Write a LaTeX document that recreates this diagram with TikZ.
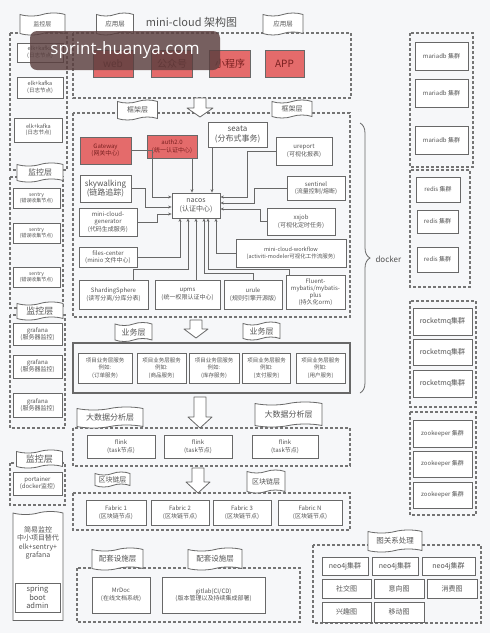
\documentclass[tikz,border=0pt]{standalone}
\usepackage{fontspec}
\setmainfont{Noto Sans CJK SC}
\newfontfamily\wmfont{Open Sans}
\usepackage{tikz}
\usetikzlibrary{arrows.meta,calc,positioning,shapes.symbols,decorations.pathreplacing}
\definecolor{bgcol}{HTML}{F6F7F9}
\definecolor{linegray}{HTML}{686868}
\definecolor{textgray}{HTML}{555555}
\definecolor{dashgray}{HTML}{747474}
\definecolor{redfill}{HTML}{E46B6B}
\definecolor{redtext}{HTML}{7A2020}
\definecolor{wmcol}{HTML}{5A3E3E}

\begin{document}
\begin{tikzpicture}[x=1pt,y=-1pt,>=Stealth,
    fs/.style 2 args={font=\fontsize{#1}{#2}\selectfont},
    box/.style={draw=linegray, fill=white, line width=0.8pt, align=center, inner sep=1pt, text=textgray},
    redbox/.style={box, fill=redfill, text=redtext},
    tag/.style={tape, draw=linegray, fill=white, line width=0.8pt, inner sep=1pt, text=textgray, tape bend height=3pt},
    dashbox/.style={draw=dashgray, line width=1.1pt, dash pattern=on 3pt off 2pt},
    link/.style={draw=linegray, line width=0.6pt, -{Stealth[length=3.5pt,width=3pt]}},
    bigarrow/.style={draw=linegray, fill=white, line width=0.8pt, line join=round}]
  \useasboundingbox (0,0) rectangle (490,633);
  \fill[bgcol] (0,0) rectangle (490,633);

  % containers
  \draw[dashbox] (10,33) rectangle (67,170);
  \draw[dashbox] (73,33) rectangle (351,98);
  \draw[dashbox] (10,177) rectangle (63,308);
  \draw[dashbox] (10,315) rectangle (65,428);
  \draw[dashbox] (10,463) rectangle (65,505);
  \draw[dashbox] (73,113) rectangle (350,317);
  \draw[linegray, line width=1.2pt] (73,343) rectangle (350,393);
  \draw[dashbox] (73,428) rectangle (350,466);
  \draw[dashbox] (73,493) rectangle (350,530);
  \draw[dashbox] (77,568) rectangle (300,622);
  \draw[dashbox] (313,545) rectangle (481,623);
  \draw[dashbox] (410,33) rectangle (473,167);
  \draw[dashbox] (410,170) rectangle (470,287);
  \draw[dashbox] (410,301) rectangle (476,407);
  \draw[dashbox] (410,412) rectangle (476,515);

  \node[text=textgray, fs={11}{13}] (title) at (191.5,22) {mini-cloud 架构图};

  % monitoring column
  \node[box, fs={5.5}{6.5}, minimum width=46pt, minimum height=19pt] (elk1) at (40,52.5) {elk+kafka\\(日志节点)};
  \node[box, fs={5.5}{6.5}, minimum width=46pt, minimum height=21pt] (elk2) at (40,87.5) {elk+kafka\\(日志节点)};
  \node[box, fs={5.5}{6.5}, minimum width=48pt, minimum height=24pt] (elk3) at (38.5,130) {elk+kafka\\(日志节点)};
  \node[box, fs={5}{6.5}, minimum width=47pt, minimum height=20pt] (sentry1) at (36.5,198) {sentry\\(错误收集节点)};
  \node[box, fs={5}{6.5}, minimum width=47pt, minimum height=20pt] (sentry2) at (36.5,233) {sentry\\(错误收集节点)};
  \node[box, fs={5}{6.5}, minimum width=47pt, minimum height=20pt] (sentry3) at (36.5,277) {sentry\\(错误收集节点)};
  \node[box, fs={6}{7}, minimum width=49pt, minimum height=22pt] (grafana1) at (37.5,334) {grafana\\(服务器监控)};
  \node[box, fs={6}{7}, minimum width=49pt, minimum height=23pt] (grafana2) at (37.5,366.5) {grafana\\(服务器监控)};
  \node[box, fs={6}{7}, minimum width=49pt, minimum height=24pt] (grafana3) at (37.5,405) {grafana\\(服务器监控)};
  \node[box, fs={6}{7}, minimum width=49pt, minimum height=23pt] (portainer) at (37.5,483.5) {portainer\\(docker监控)};
  \node[tag, tape bend bottom=none, minimum width=50pt, minimum height=109pt] (simpleMon) at (38,567.5) {};
  \node[text=textgray, align=center, fs={7}{8.3}] (simpleMonTxt) at (38,543) {简易监控\\中小项目替代\\elk+sentry+\\grafana};
  \node[box, fs={7.5}{8.5}, minimum width=45pt, minimum height=29pt] (springAdmin) at (37.5,597.5) {spring\\boot\\admin};

  % application layer
  \node[redbox, fs={10}{12}, minimum width=40pt, minimum height=27pt] (web) at (113,63.5) {web};
  \node[redbox, fs={10}{12}, minimum width=41pt, minimum height=27pt] (wechat) at (172,63.5) {公众号};
  \node[redbox, fs={10}{12}, minimum width=41pt, minimum height=27pt] (miniapp) at (230,63.5) {小程序};
  \node[redbox, fs={10}{12}, minimum width=39pt, minimum height=27pt] (app) at (284.5,63.5) {APP};

  % framework layer
  \node[redbox, fs={6}{7.5}, minimum width=51pt, minimum height=27pt] (gateway) at (105.5,150.5) {Gateway\\(网关中心)};
  \node[redbox, fs={6}{7.5}, minimum width=50pt, minimum height=23pt] (auth) at (172,146.5) {auth2.0\\(统一认证中心)};
  \node[box, fs={8}{9.5}, minimum width=59pt, minimum height=25pt] (seata) at (237.5,134.5) {seata\\(分布式事务)};
  \node[box, fs={6}{7.5}, minimum width=56pt, minimum height=28pt] (ureport) at (304,151) {ureport\\(可视化报表)};
  \node[box, fs={6}{7.5}, minimum width=58pt, minimum height=24pt] (sentinel) at (316,188) {sentinel\\(流量控制/熔断)};
  \node[box, fs={6}{7.5}, minimum width=68pt, minimum height=27pt] (xxjob) at (301,221.5) {xxjob\\(可视化定时任务)};
  \node[box, fs={5.5}{7}, minimum width=110pt, minimum height=28pt] (workflow) at (291,253) {mini-cloud-workflow\\(activiti-modeler可视化工作流服务)};
  \node[box, fs={6}{7.2}, minimum width=59pt, minimum height=34pt] (fluent) at (315.5,292) {Fluent-\\mybatis/mybatis-\\plus\\(持久化orm)};
  \node[box, fs={6}{7.5}, minimum width=58pt, minimum height=29pt] (urule) at (253,294.5) {urule\\(规则引擎开源版)};
  \node[box, fs={6}{7.5}, minimum width=65pt, minimum height=29pt] (upms) at (187.5,294.5) {upms\\(统一权限认证中心)};
  \node[box, fs={6}{7.5}, minimum width=69pt, minimum height=29pt] (sharding) at (113.5,294.5) {ShardingSphere\\(读写分离/分库分表)};
  \node[box, fs={6}{7.2}, minimum width=58pt, minimum height=20pt] (files) at (108,257) {files-center\\(minio 文件中心)};
  \node[box, fs={6}{7.2}, minimum width=58pt, minimum height=28pt] (generator) at (108,222) {mini-cloud-\\generator\\(代码生成服务)};
  \node[box, fs={8}{9.5}, minimum width=51pt, minimum height=27pt] (skywalking) at (105.5,188.5) {skywalking\\(链路追踪)};
  \node[box, fs={7}{8.5}, minimum width=48pt, minimum height=25pt] (nacos) at (196,205.5) {nacos\\(认证中心)};

  \draw[link] (gateway.east) -- ++(21,0) |- ([yshift=8.5pt]nacos.west);
  \draw[link] (skywalking.east) -- ++(14,0) |- ([yshift=-1.5pt]nacos.west);
  \draw[link] (generator.east) -- ++(20,0) |- ([yshift=-8.5pt]nacos.west);
  \draw[link] ([xshift=20pt]auth.south) -- ([xshift=-4pt]nacos.north);
  \draw[link] ([xshift=-25.5pt]seata.south) -- ([xshift=16pt]nacos.north);
  \draw[link] (ureport.west) -- ++(-28,0) |- ([yshift=8.5pt]nacos.east);
  \draw[link] (sentinel.west) -- ++(-32,0) |- ([yshift=2.5pt]nacos.east);
  \draw[link] (xxjob.west) -- ++(-6,0) |- ([yshift=-3.5pt]nacos.east);
  \draw[link] (workflow.west) -| ([xshift=20pt]nacos.south);
  \draw[link] ([xshift=-26pt]fluent.north) -- ++(0,-5) -| ([xshift=12pt]nacos.south);
  \draw[link] (urule.north) -- ++(0,-6) -| ([xshift=8pt]nacos.south);
  \draw[link] (upms.north -| nacos.south) -- (nacos.south);
  \draw[link] ([xshift=20pt]sharding.north) -- ++(0,-10) -| ([xshift=-8pt]nacos.south);
  \draw[link] (files.east) -| ([xshift=-16pt]nacos.south);

  % business layer
  \node[box, fs={5.5}{7.5}, minimum width=54pt, minimum height=30pt] (biz1) at (105,368) {项目业务层服务\\例如:\\(订单服务)};
  \node[box, fs={5.5}{7.5}, minimum width=49pt, minimum height=30pt] (biz2) at (161.5,368) {项目业务层服务\\例如:\\(商品服务)};
  \node[box, fs={5.5}{7.5}, minimum width=50pt, minimum height=30pt] (biz3) at (214,368) {项目业务层服务\\例如:\\(库存服务)};
  \node[box, fs={5.5}{7.5}, minimum width=48pt, minimum height=30pt] (biz4) at (266.5,368) {项目业务层服务\\例如:\\(支付服务)};
  \node[box, fs={5.5}{7.5}, minimum width=49pt, minimum height=30pt] (biz5) at (320.5,368) {项目业务层服务\\例如:\\(用户服务)};

  % big data / blockchain
  \node[box, fs={6}{7.5}, minimum width=68pt, minimum height=23pt] (flink1) at (121,446.5) {flink\\(task节点)};
  \node[box, fs={6}{7.5}, minimum width=68pt, minimum height=23pt] (flink2) at (198,446.5) {flink\\(task节点)};
  \node[box, fs={6}{7.5}, minimum width=66pt, minimum height=23pt] (flink3) at (285,446.5) {flink\\(task节点)};
  \node[box, fs={6}{7.5}, minimum width=60pt, minimum height=25pt] (fabric1) at (116,512.5) {Fabric 1\\(区块链节点)};
  \node[box, fs={6}{7.5}, minimum width=58pt, minimum height=25pt] (fabric2) at (180,512.5) {Fabric 2\\(区块链节点)};
  \node[box, fs={6}{7.5}, minimum width=58pt, minimum height=25pt] (fabric3) at (242,512.5) {Fabric 3\\(区块链节点)};
  \node[box, fs={6}{7.5}, minimum width=64pt, minimum height=25pt] (fabricN) at (310,512.5) {Fabric N\\(区块链节点)};

  % supporting facilities
  \node[box, fs={6}{7.5}, minimum width=58pt, minimum height=36pt] (mrdoc) at (121,595) {MrDoc\\(在线文档系统)};
  \node[box, fs={6}{7.5}, minimum width=103pt, minimum height=36pt] (gitlab) at (213.5,595) {gitlab(CI/CD)\\(版本管理以及持续集成部署)};

  % graph processing
  \node[box, fs={7}{8}, minimum width=46pt, minimum height=18pt] (neoA) at (345,566) {neo4j集群};
  \node[box, fs={7}{8}, minimum width=46pt, minimum height=18pt] (neoB) at (395,566) {neo4j集群};
  \node[box, fs={7}{8}, minimum width=53pt, minimum height=18pt] (neoC) at (448.5,566) {neo4j集群};
  \node[box, fs={7}{8}, minimum width=49pt, minimum height=19pt] (socialG) at (346.5,588.5) {社交图};
  \node[box, fs={7}{8}, minimum width=50pt, minimum height=19pt] (intentG) at (399,588.5) {意向图};
  \node[box, fs={7}{8}, minimum width=50pt, minimum height=19pt] (consumeG) at (452,588.5) {消费图};
  \node[box, fs={7}{8}, minimum width=49pt, minimum height=20pt] (interestG) at (346.5,612) {兴趣图};
  \node[box, fs={7}{8}, minimum width=50pt, minimum height=20pt] (mobileG) at (399,612) {移动图};

  % docker clusters
  \node[box, fs={6}{7}, minimum width=53pt, minimum height=28pt] (maria1) at (441.5,56) {mariadb 集群};
  \node[box, fs={6}{7}, minimum width=53pt, minimum height=28pt] (maria2) at (441.5,93) {mariadb 集群};
  \node[box, fs={6}{7}, minimum width=53pt, minimum height=28pt] (maria3) at (441.5,140) {mariadb 集群};
  \node[box, fs={6}{7}, minimum width=44pt, minimum height=25pt] (redis1) at (438,189.5) {redis 集群};
  \node[box, fs={6}{7}, minimum width=41pt, minimum height=23pt] (redis2) at (437.5,221.5) {redis 集群};
  \node[box, fs={6}{7}, minimum width=41pt, minimum height=25pt] (redis3) at (437.5,259.5) {redis 集群};
  \node[box, fs={7}{8}, minimum width=59pt, minimum height=27pt] (rocket1) at (442.5,321.5) {rocketmq集群};
  \node[box, fs={7}{8}, minimum width=59pt, minimum height=26pt] (rocket2) at (442.5,352) {rocketmq集群};
  \node[box, fs={7}{8}, minimum width=59pt, minimum height=27pt] (rocket3) at (442.5,383.5) {rocketmq集群};
  \node[box, fs={6}{7}, minimum width=59pt, minimum height=27pt] (zoo1) at (442.5,433.5) {zookeeper 集群};
  \node[box, fs={6}{7}, minimum width=59pt, minimum height=26pt] (zoo2) at (442.5,464) {zookeeper 集群};
  \node[box, fs={6}{7}, minimum width=59pt, minimum height=26pt] (zoo3) at (442.5,495) {zookeeper 集群};

  \draw[linegray, line width=0.8pt, decorate, decoration={brace, amplitude=10pt}] (360,123) -- (360,393);
  \node[anchor=west, text=textgray, fs={8}{9}] (docker) at (372,259) {docker};

  % layer tags
  \node[tag, fs={6}{7}, minimum width=45pt, minimum height=22pt] (tagMonA) at (42.5,24) {监控层};
  \node[tag, fs={6.5}{7}, minimum width=37pt, minimum height=22pt] (tagAppA) at (115,24) {应用层};
  \node[tag, fs={6.5}{7}, minimum width=40pt, minimum height=22pt] (tagAppB) at (283,24) {应用层};
  \node[tag, fs={7}{8}, minimum width=40pt, minimum height=20pt] (tagFrmA) at (137.5,110) {框架层};
  \node[tag, fs={7}{8}, minimum width=40pt, minimum height=18pt] (tagFrmB) at (292,109) {框架层};
  \node[tag, fs={8}{9}, minimum width=46pt, minimum height=19pt] (tagMonB) at (40,172.5) {监控层};
  \node[tag, fs={9}{10}, minimum width=46pt, minimum height=18pt] (tagMonC) at (40,311) {监控层};
  \node[tag, fs={9}{10}, minimum width=46pt, minimum height=18pt] (tagMonD) at (39.5,459) {监控层};
  \node[tag, fs={8}{9}, minimum width=37pt, minimum height=19pt] (tagBizA) at (133.5,332) {业务层};
  \node[tag, fs={8}{9}, minimum width=37pt, minimum height=18pt] (tagBizB) at (261.5,331) {业务层};
  \node[tag, fs={8}{9}, minimum width=66pt, minimum height=21pt] (tagDataA) at (110,417.5) {大数据分析层};
  \node[tag, fs={8}{9}, minimum width=67pt, minimum height=25pt] (tagDataB) at (288.5,414.5) {大数据分析层};
  \node[tag, fs={7}{8}, minimum width=35pt, minimum height=15pt] (tagChainA) at (112.5,479.5) {区块链层};
  \node[tag, fs={7}{8}, minimum width=38pt, minimum height=23pt] (tagChainB) at (266,481.5) {区块链层};
  \node[tag, fs={7.5}{8.5}, minimum width=51pt, minimum height=22pt] (tagSupA) at (117.5,559) {配套设施层};
  \node[tag, fs={7.5}{8.5}, minimum width=54pt, minimum height=22pt] (tagSupB) at (215,559) {配套设施层};
  \node[tag, fs={7.5}{8.5}, minimum width=54pt, minimum height=22pt] (tagGraph) at (395,541) {图关系处理};

  % flow arrows between layers
  \draw[bigarrow] (194,98) -- ++(12,0) -- ++(0,10) -- ++(7,0) -- ++(-13,9) -- ++(-13,-9) -- ++(7,0) -- cycle;
  \draw[bigarrow] (190,320) -- ++(12,0) -- ++(0,9) -- ++(6,0) -- ++(-12,9) -- ++(-12,-9) -- ++(6,0) -- cycle;
  \draw[bigarrow] (194,397) -- ++(12,0) -- ++(0,20) -- ++(6,0) -- ++(-12,11) -- ++(-12,-11) -- ++(6,0) -- cycle;
  \draw[bigarrow] (192,468) -- ++(12,0) -- ++(0,14) -- ++(6,0) -- ++(-12,11) -- ++(-12,-11) -- ++(6,0) -- cycle;

  % watermark
  \fill[wmcol, opacity=0.82, rounded corners=7pt] (30,31) rectangle (220,70);
  \node[text=white, font=\wmfont\fontsize{17}{19}\selectfont] (watermark) at (125,50) {sprint-huanya.com};
\end{tikzpicture}
\end{document}
